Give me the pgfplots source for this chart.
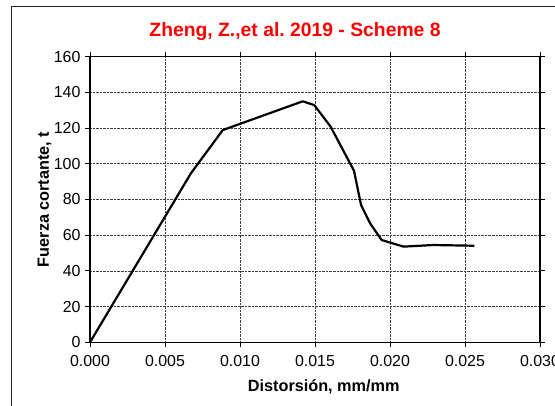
\documentclass[border=0pt]{standalone}
\usepackage{pgfplots}
\pgfplotsset{compat=1.18}
\usepackage{fontspec}
\setmainfont{Liberation Sans}
\frenchspacing
\begin{document}
\begin{tikzpicture}
\useasboundingbox (0bp,0bp) rectangle (555bp,406bp);
\clip (0bp,0bp) rectangle (555bp,406bp);
\fill[white] (0bp,0bp) rectangle (555bp,406bp);
\draw[line width=1bp, black!85] (600bp,399.6bp) -- (11.5bp,399.6bp) -- (11.5bp,-10bp);
\node[text=red, font=\fontsize{19.4}{23}\selectfont\bfseries, anchor=base, inner sep=0pt] at (295bp,369.3bp) {Zheng, Z.,et al.\ 2019 - Scheme 8};
\begin{axis}[
  at={(90bp,63.7bp)}, anchor=south west,
  scale only axis, width=450bp, height=285.6bp,
  xmin=0, xmax=0.030, ymin=0, ymax=160,
  xtick={0,0.005,0.010,0.015,0.020,0.025,0.030},
  ytick={0,20,40,60,80,100,120,140,160},
  scaled x ticks=false,
  xticklabel style={/pgf/number format/fixed, /pgf/number format/fixed zerofill, /pgf/number format/precision=3, yshift=-4.5bp},
  /pgf/number format/assume math mode=true,
  tick label style={font=\fontsize{16}{19}\selectfont, text=black},
  yticklabel style={xshift=-1bp},
  tick align=outside,
  major tick length=5bp,
  tick style={black, line width=0.8bp},
  axis line style={black, line width=1.3bp},
  grid=major,
  major grid style={densely dotted, black!75, line width=0.7bp},
  xlabel={\bfseries Distorsión, mm/mm},
  ylabel={\bfseries Fuerza cortante, t},
  label style={font=\fontsize{16.3}{19}\selectfont},
  xlabel style={at={(axis description cs:0.5,0)}, anchor=base, yshift=-49bp, xshift=8.7bp},
  ylabel style={at={(axis description cs:0,0.5)}, anchor=base, rotate=0, yshift=41bp},
  clip=false,
]
\addplot[black, line width=2.2bp, line join=round] coordinates {
  (0,0) (0.00673,94.7) (0.00885,118.9) (0.01418,135.0) (0.01495,132.9)
  (0.01604,120.8) (0.0176,96.1) (0.01807,76.9) (0.01867,66.7)
  (0.01944,57.3) (0.0209,53.6) (0.02289,54.5) (0.02562,54.1)
};
\end{axis}
\end{tikzpicture}
\end{document}
